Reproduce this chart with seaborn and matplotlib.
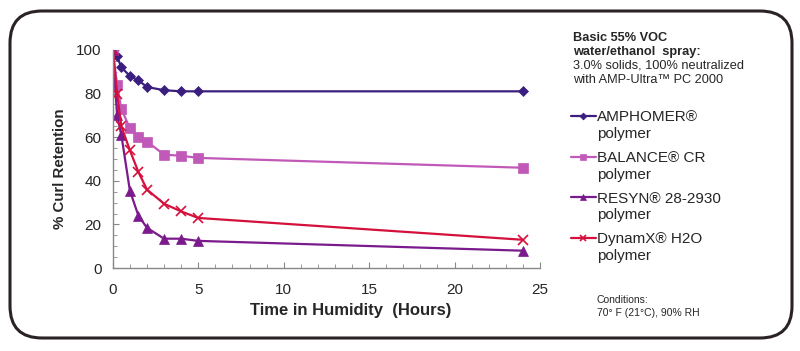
import pandas as pd
import seaborn as sns
import matplotlib.pyplot as plt
from matplotlib.patches import FancyBboxPatch
from matplotlib.ticker import MultipleLocator

# Curl retention vs time in humidity
hours = [0, 0.25, 0.5, 1, 1.5, 2, 3, 4, 5, 24]
amphomer = [100, 97, 92, 88, 86, 83, 81.5, 81, 81, 81]
balance = [100, 84, 73, 64, 60, 58, 52, 51.5, 50.5, 46]
resyn = [100, 70, 61, 35.5, 24, 18.5, 13.5, 13.5, 12.5, 8]
dynamx = [100, 80, 65, 54, 44, 36, 29.5, 26, 23, 13]

names = ["AMPHOMER®", "BALANCE® CR", "RESYN® 28-2930", "DynamX® H2O"]
series = [amphomer, balance, resyn, dynamx]
colors = ["#3b1f7e", "#c159b8", "#7b1a8c", "#d5103c"]
markers = ["D", "s", "^", "x"]
msizes = [5, 7, 7, 7]

rows = []
for n, vals in zip(names, series):
    for h, v in zip(hours, vals):
        rows.append({"Hours": h, "Retention": v, "Polymer": n})
data = pd.DataFrame(rows)

sns.set_style("white")
plt.rcParams['font.family'] = ['Liberation Sans', 'DejaVu Sans']

fig = plt.figure(figsize=(8, 3.51), dpi=100)
ax = fig.add_axes([0.141, 0.236, 0.534, 0.622])

# rounded frame around everything
frame = FancyBboxPatch((0.1, 0.13), 7.82, 3.27, boxstyle="round,pad=0,rounding_size=0.32",
                       transform=fig.dpi_scale_trans, fill=False, edgecolor="#2a2226",
                       linewidth=2.2)
fig.patches.append(frame)

for n, c, m, s in zip(names, colors, markers, msizes):
    sub = data[data["Polymer"] == n]
    sns.lineplot(data=sub, x="Hours", y="Retention", ax=ax, color=c, marker=m,
                 markersize=s, markeredgecolor=c, markeredgewidth=1.2 if m == "x" else 0.5,
                 linewidth=1.6, label=n)

ax.set_xlim(0, 25)
ax.set_ylim(0, 100)
ax.xaxis.set_major_locator(MultipleLocator(5))
ax.xaxis.set_minor_locator(MultipleLocator(1))
ax.yaxis.set_major_locator(MultipleLocator(20))
ax.yaxis.set_minor_locator(MultipleLocator(5))
ax.tick_params(which="both", direction="in", color="#888888", labelsize=11)
ax.tick_params(axis="y", pad=8)
ax.tick_params(axis="x", pad=11)
ax.tick_params(which="major", length=4)
ax.tick_params(which="minor", length=3)
ax.tick_params(axis="x", which="both", bottom=True)
ax.tick_params(axis="y", which="both", left=True)
for side in ["top", "right"]:
    ax.spines[side].set_visible(False)
for side in ["left", "bottom"]:
    ax.spines[side].set_color("#888888")
    ax.spines[side].set_linewidth(1.0)

ax.set_xlabel("Time in Humidity  (Hours)", fontsize=12, fontweight="bold")
ax.xaxis.set_label_coords(0.557, -0.16)
ax.set_ylabel("% Curl Retention", fontsize=10.8, fontweight="bold")
ax.yaxis.set_label_coords(-0.108, 0.455)

leg = ax.legend(loc="upper left", bbox_to_anchor=(0.714, 0.686), bbox_transform=fig.transFigure,
                frameon=False, fontsize=11, handlelength=1.6, handletextpad=0.1,
                labelspacing=1.75, borderpad=0, borderaxespad=0, markerscale=0.7)

# second line of each legend entry
fig.canvas.draw()
for t in leg.get_texts():
    bb = t.get_window_extent().transformed(fig.transFigure.inverted())
    fig.text(bb.x0, bb.y0 - 0.008, "polymer", fontsize=11, va="top", ha="left")

header = [("Basic 55% VOC", "bold", 38), ("water/ethanol  spray:", "bold", 52),
          ("3.0% solids, 100% neutralized", "normal", 66),
          ("with AMP-Ultra™ PC 2000", "normal", 80)]
for txt, w, ypx in header:
    fig.text(0.716, 1 - ypx / 351, txt, fontsize=9.2, fontweight=w, va="center")

fig.text(0.746, 1 - 300 / 351, "Conditions:", fontsize=7.5, va="center")
fig.text(0.746, 1 - 313 / 351, "70° F (21°C), 90% RH", fontsize=7.5, va="center")

plt.savefig("out.png", dpi=100)
